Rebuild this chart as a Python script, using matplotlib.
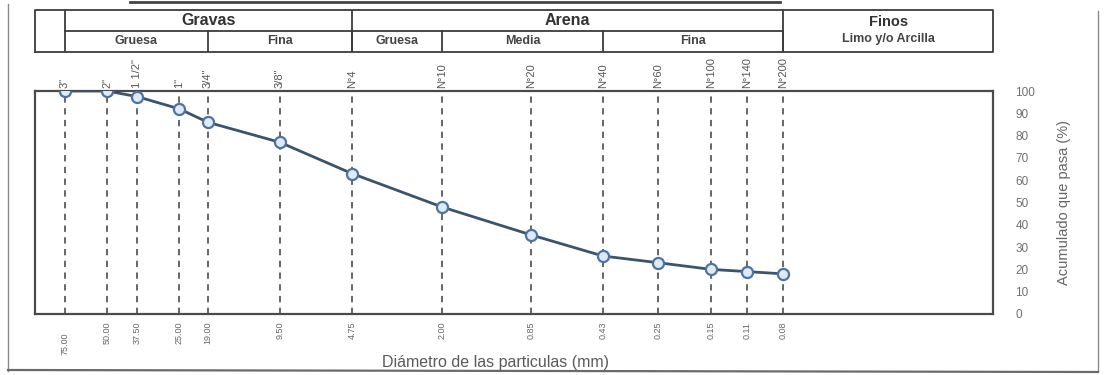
import matplotlib
matplotlib.use("Agg")
import matplotlib.pyplot as plt
from matplotlib.lines import Line2D
from matplotlib.ticker import NullLocator
import numpy as np

# Sieve designations, openings (mm) and cumulative percent passing
sieves = ['3"', '2"', '1 1/2"', '1"', '3/4"', '3/8"', 'N°4', 'N°10', 'N°20',
          'N°40', 'N°60', 'N°100', 'N°140', 'N°200']
openings = [75.0, 50.0, 37.5, 25.0, 19.0, 9.5, 4.75, 2.0, 0.85,
            0.425, 0.25, 0.15, 0.106, 0.075]
opening_labels = ['75.00', '50.00', '37.50', '25.00', '19.00', '9.50', '4.75',
                  '2.00', '0.85', '0.43', '0.25', '0.15', '0.11', '0.08']
passing = [100, 100, 97.5, 92, 86, 77, 63, 48, 35.5, 26, 23, 20, 19, 18]
y_ticks = [0, 10, 20, 30, 40, 50, 60, 70, 80, 90, 100]

# Soil classification bands (upper, lower opening in mm)
main_groups = [("Gravas", 75.0, 4.75), ("Arena", 4.75, 0.075)]
sub_groups = [("Gruesa", 75.0, 19.0), ("Fina", 19.0, 4.75),
              ("Gruesa", 4.75, 2.0), ("Media", 2.0, 0.425), ("Fina", 0.425, 0.075)]

W, H = 1109, 375
fig = plt.figure(figsize=(W / 100, H / 100), dpi=100)
fig.patch.set_facecolor("white")
plt.rcParams["font.family"] = ["Liberation Sans", "DejaVu Sans"]

xl, xr = 35 / W, 993 / W
ax = fig.add_axes([xl, 1 - 314 / H, xr - xl, (314 - 91) / H])
hx = fig.add_axes([xl, 1 - 52 / H, xr - xl, (52 - 10) / H], sharex=ax)

ax.set_xscale("log")
ax.set_xlim(100, 0.01)
ax.set_ylim(0, 100)

spine_c = "#4a4a4a"
for s in ax.spines.values():
    s.set_color(spine_c)
    s.set_linewidth(1.6)

# dashed sieve guides
for d in openings:
    ax.axvline(d, color="#5a5a5a", lw=1.3, ls=(0, (3.5, 3.0)), zorder=1)

ax.plot(openings, passing, color="#3b546e", lw=2.0, zorder=3,
        marker="o", ms=8, mfc="#dfeaf6", mec="#4d74a0", mew=1.6)

ax.yaxis.tick_right()
ax.set_yticks(y_ticks)
ax.tick_params(axis="y", length=0, pad=16, labelsize=8.5, labelcolor="#707070")

# sieve names above the plot, diameters below
for name, d in zip(sieves, openings):
    ax.text(d, 101.5, name, rotation=90, ha="center", va="bottom",
            fontsize=8, color="#555555", clip_on=False)
for i, (lab, d) in enumerate(zip(opening_labels, openings)):
    yoff = -8.5 if i == 0 else -3.5
    ax.text(d, yoff, lab, rotation=90, ha="center", va="top",
            fontsize=6.5, color="#666666", clip_on=False)

ax.yaxis.set_label_position("right")
ax.set_ylabel("Acumulado que pasa (%)", fontsize=10.5, color="#666666",
              labelpad=16, rotation=90)
fig.text(495 / W, 1 - 362 / H, "Diámetro de las particulas (mm)", ha="center",
         va="center", fontsize=11.5, color="#5a5a5a")

# classification header table sharing the log x scale
hx.set_ylim(0, 2)
hx.axis("off")
tc = "#3c3c3c"
lw = 1.3
hx.plot([100, 0.01, 0.01, 100, 100], [0, 0, 2, 2, 0], color=tc, lw=lw, clip_on=False)
hx.plot([75.0, 75.0], [0, 2], color=tc, lw=lw)
hx.plot([75.0, 0.075], [1, 1], color=tc, lw=lw)
for name, a, b in main_groups:
    hx.plot([b, b], [0, 2], color=tc, lw=lw)
    xc = np.sqrt(a * b)
    hx.text(xc, 1.5, name, ha="center", va="center", fontsize=11.5,
            fontweight="bold", color="#333333")
for name, a, b in sub_groups:
    hx.plot([b, b], [0, 1], color=tc, lw=lw)
    xc = np.sqrt(a * b)
    hx.text(xc, 0.5, name, ha="center", va="center", fontsize=9,
            fontweight="bold", color="#444444")
fx = np.sqrt(0.075 * 0.01)
hx.text(fx, 1.42, "Finos", ha="center", va="center", fontsize=10.5,
        fontweight="bold", color="#333333")
hx.text(fx, 0.6, "Limo y/o Arcilla", ha="center", va="center", fontsize=9,
        fontweight="bold", color="#444444")

# no numeric x ticks on the shared log axis
ax.xaxis.set_major_locator(NullLocator())
ax.xaxis.set_minor_locator(NullLocator())
ax.tick_params(axis="x", which="both", bottom=False, labelbottom=False)

# page frame of the sheet
frame_c = "#8a8a8a"
fig.add_artist(Line2D([8 / W, 8 / W], [0.01, 0.99], color=frame_c, lw=1.0))
fig.add_artist(Line2D([1098 / W, 1098 / W], [0.01, 0.97], color=frame_c, lw=1.0))
fig.add_artist(Line2D([8 / W, 1098 / W], [1 - 370 / H, 1 - 372 / H], color="#6a6a6a", lw=1.6))
fig.add_artist(Line2D([130 / W, 780 / W], [1 - 2 / H, 1 - 2 / H], color="#444444", lw=2.0))

fig.savefig("out.png", dpi=100, facecolor="white")
